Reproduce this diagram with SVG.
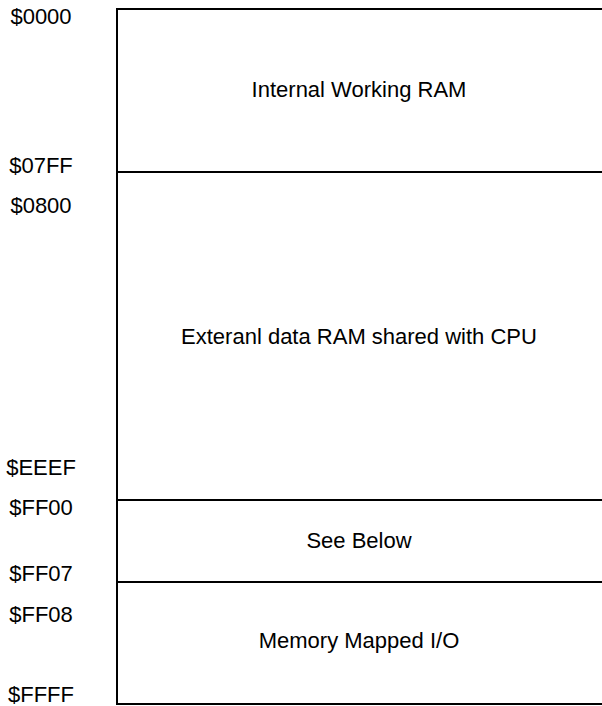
<svg xmlns="http://www.w3.org/2000/svg" width="602" height="706" viewBox="0 0 602 706">
  <style>
    text { font-family: "Liberation Sans", Arial, sans-serif; font-size: 22px; fill: #000; }
    .addr { text-anchor: middle; }
    .label { text-anchor: middle; }
    .edge { stroke: #000; stroke-width: 2; fill: none; }
  </style>
  <rect width="602" height="706" fill="#fff"/>

  <!-- memory map outline and region dividers -->
  <g id="connectors">
    <path class="edge" d="M117 9 V704 M116 9 H602 M116 172 H602 M116 500 H602 M116 582 H602 M116 704 H602"/>
  </g>

  <g id="region-internal-ram">
    <text class="label" x="359" y="97">Internal Working RAM</text>
  </g>
  <g id="region-external-ram">
    <text class="label" x="359" y="344">Exteranl data RAM shared with CPU</text>
  </g>
  <g id="region-see-below">
    <text class="label" x="359" y="548">See Below</text>
  </g>
  <g id="region-mmio">
    <text class="label" x="359" y="648">Memory Mapped I/O</text>
  </g>

  <!-- address labels -->
  <g id="addresses">
    <text class="addr" x="41" y="24">$0000</text>
    <text class="addr" x="41" y="173">$07FF</text>
    <text class="addr" x="41" y="213">$0800</text>
    <text class="addr" x="41" y="475">$EEEF</text>
    <text class="addr" x="41" y="515">$FF00</text>
    <text class="addr" x="41" y="581">$FF07</text>
    <text class="addr" x="41" y="622">$FF08</text>
    <text class="addr" x="41" y="702">$FFFF</text>
  </g>
</svg>
